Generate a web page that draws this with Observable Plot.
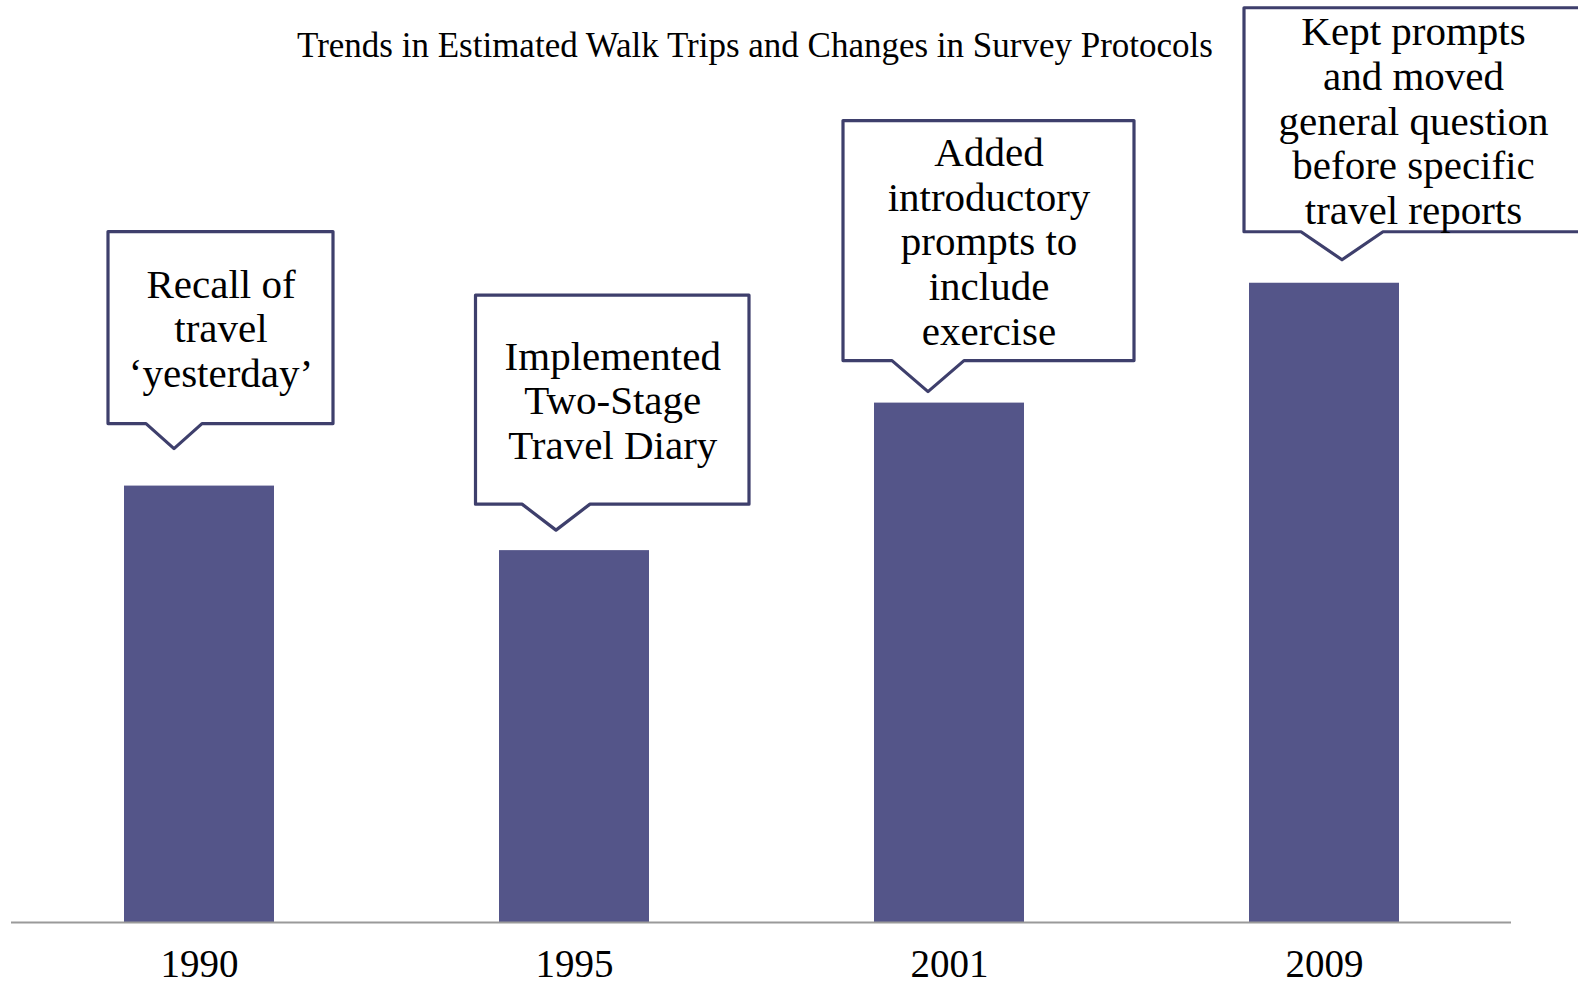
<!DOCTYPE html>
<html>
<head>
<meta charset="utf-8">
<script src="https://cdn.jsdelivr.net/npm/d3@7"></script>
<script src="https://cdn.jsdelivr.net/npm/@observablehq/plot@0.6"></script>
<style>
  html, body { margin: 0; padding: 0; background: #fff; }
  #wrap { position: relative; width: 1578px; height: 988px; overflow: hidden; }
  #title { position: absolute; left: 0; top: 28px; width: 1510px; text-align: center;
           font-family: "Liberation Serif", serif; font-size: 35px; line-height: 35px; color: #000; z-index: 2; pointer-events: none; }
  #chart svg { display: block; }
</style>
</head>
<body>
<div id="wrap">
  <div id="title">Trends in Estimated Walk Trips and Changes in Survey Protocols</div>
  <div id="chart"></div>
</div>
<script>
// ---- data ----
const years = ["1990", "1995", "2001", "2009"];
const walkTrips = [7.1, 6.05, 8.45, 10.4]; // relative estimated walk trips (no axis in source)
const protocolNotes = [
  "Recall of\ntravel\n‘yesterday’",
  "Implemented\nTwo-Stage\nTravel Diary",
  "Added\nintroductory\nprompts to\ninclude\nexercise",
  "Kept prompts\nand moved\ngeneral question\nbefore specific\ntravel reports"
];

// ---- callout geometry (pixels, relative to each bar's top centre) ----
const calloutLayout = [
  {tipDx: -25, gap: 37, pointerH: 25, pointerHW: 28, left: -91,  right: 134, boxH: 192},
  {tipDx: -18, gap: 20, pointerH: 26, pointerHW: 34, left: -98.5, right: 175, boxH: 209},
  {tipDx: -21, gap: 11, pointerH: 31, pointerHW: 36, left: -106, right: 185, boxH: 240},
  {tipDx: 18,  gap: 23, pointerH: 28, pointerHW: 41, left: -80,  right: 258, boxH: 224}
];

const barColor = "#545589";
const calloutStroke = "#3e3f6c";
const serif = "'Liberation Serif', 'Times New Roman', serif";

const rows = years.map((year, i) => ({year, value: walkTrips[i], note: protocolNotes[i]}));

function callouts(index, scales) {
  const x = scales.x, y = scales.y;
  const bw = typeof x.bandwidth === "function" ? x.bandwidth() : (x.bandwidth || 0);
  const g = d3.create("svg:g");
  rows.forEach((d, i) => {
    const L = calloutLayout[i];
    const cx = x(d.year) + bw / 2;
    const top = y(d.value);
    const tipX = cx + L.tipDx, tipY = top - L.gap;
    const bot = tipY - L.pointerH, boxTop = bot - L.boxH;
    const pts = [
      [tipX - L.pointerHW, bot], [tipX, tipY], [tipX + L.pointerHW, bot],
      [cx + L.right, bot], [cx + L.right, boxTop], [cx + L.left, boxTop], [cx + L.left, bot]
    ];
    g.append("path")
      .attr("d", "M" + pts.map(p => p.join(",")).join("L") + "Z")
      .attr("fill", "#fff")
      .attr("stroke", calloutStroke)
      .attr("stroke-width", 3.2)
      .attr("stroke-linejoin", "round");
  });
  return g.node();
}

const noteMarks = rows.map((d, i) => {
  const L = calloutLayout[i];
  return Plot.text([d], {
    x: "year", y: "value", text: "note",
    dx: (L.left + L.right) / 2,
    dy: -(L.gap + L.pointerH + L.boxH / 2),
    fontSize: 41, lineHeight: 1.09, fontFamily: serif, fill: "#000",
    textAnchor: "middle", lineAnchor: "middle"
  });
});

const chart = Plot.plot({
  width: 1578,
  height: 988,
  marginTop: 0,
  marginBottom: 66,
  marginLeft: 11,
  marginRight: 67,
  style: {background: "transparent", fontFamily: serif, fontSize: "39px", color: "#000"},
  x: {domain: years, paddingInner: 0.6, paddingOuter: 0.3, label: null, tickSize: 0, tickPadding: 27},
  y: {domain: [0, 15], axis: null},
  marks: [
    Plot.barY(rows, {x: "year", y: "value", fill: barColor}),
    Plot.ruleY([0], {stroke: "#9a9a9a", strokeWidth: 2}),
    callouts,
    ...noteMarks
  ]
});
document.getElementById("chart").appendChild(chart);
</script>
</body>
</html>
